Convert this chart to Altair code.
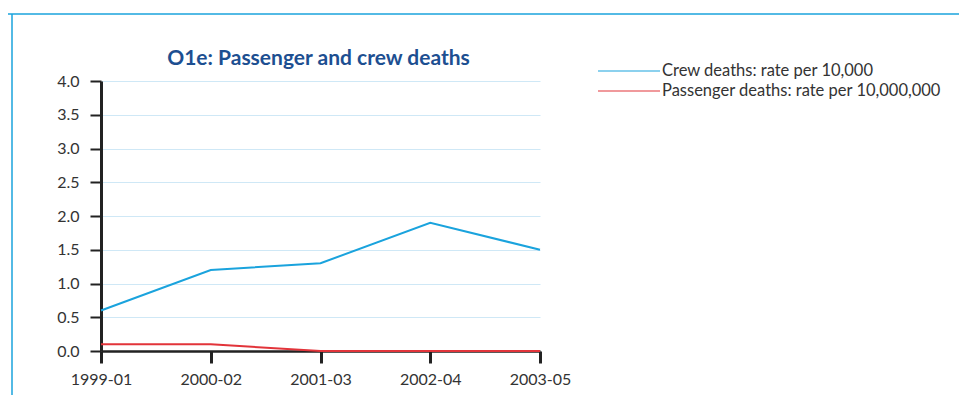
import altair as alt
import pandas as pd

periods = ["1999-01", "2000-02", "2001-03", "2002-04", "2003-05"]
crew = [0.6, 1.2, 1.3, 1.9, 1.5]
passenger = [0.1, 0.1, 0.0, 0.0, 0.0]
series_names = ["Crew deaths: rate per 10,000", "Passenger deaths: rate per 10,000,000"]
series_colors = ["#1aa3dd", "#e2343a"]
title_text = "O1e: Passenger and crew deaths"

rows = []
for p, c in zip(periods, crew):
    rows.append({"period": p, "value": c, "series": series_names[0]})
for p, v in zip(periods, passenger):
    rows.append({"period": p, "value": v, "series": series_names[1]})
df = pd.DataFrame(rows)

FONT = "Lato"

color_scale = alt.Scale(domain=series_names, range=series_colors)

lines = alt.Chart(df).mark_line(strokeWidth=2).encode(
    x=alt.X("period:O", sort=periods, scale=alt.Scale(type="point", padding=0),
            axis=alt.Axis(title=None, labelAngle=0, domainColor="#222222", domainWidth=2.5,
                          tickColor="#222222", tickWidth=3, tickSize=12, labelPadding=8,
                          labelFontSize=16, labelColor="#333333", labelFont=FONT, grid=False)),
    y=alt.Y("value:Q", scale=alt.Scale(domain=[0, 4]),
            axis=alt.Axis(title=None, values=[0, 0.5, 1, 1.5, 2, 2.5, 3, 3.5, 4], format=".1f",
                          domainColor="#222222", domainWidth=3, tickColor="#222222", tickWidth=2,
                          tickSize=11, labelPadding=11, labelFontSize=16, labelColor="#333333",
                          labelFont=FONT, grid=True, gridColor="#cfe8f6", gridWidth=1)),
    color=alt.Color("series:N", sort=series_names, scale=color_scale, legend=None),
)

leg_y = {series_names[0]: -10, series_names[1]: 10}
leg_rules = []
leg_texts = []
for name in series_names:
    one = pd.DataFrame({"series": [name]})
    leg_rules.append(alt.Chart(one).mark_rule(strokeWidth=1.2).encode(
        x=alt.value(497), x2=alt.value(559), y=alt.value(leg_y[name]),
        color=alt.Color("series:N", scale=color_scale, legend=None)))
    leg_texts.append(alt.Chart(one).mark_text(align="left", baseline="middle", font=FONT,
                                               fontSize=16.5, color="#333333").encode(
        x=alt.value(561), y=alt.value(leg_y[name]), text="series:N"))

title = alt.Chart(pd.DataFrame({"t": [title_text]})).mark_text(
    align="center", baseline="middle", font=FONT, fontSize=21, fontWeight="bold",
    color="#1d4f91").encode(x=alt.value(217.5), y=alt.value(-22), text="t:N")

frame_top = alt.Chart(pd.DataFrame({"a": [0]})).mark_rule(color="#1aa3dd", strokeWidth=1.5).encode(
    x=alt.value(-95), x2=alt.value(870), y=alt.value(-67))
frame_left = alt.Chart(pd.DataFrame({"a": [0]})).mark_rule(color="#1aa3dd", strokeWidth=1.5).encode(
    x=alt.value(-89), y=alt.value(-67), y2=alt.value(330))

chart = alt.layer(frame_top, frame_left, lines, title, *leg_rules, *leg_texts).properties(
    width=439, height=270,
    autosize=alt.AutoSizeParams(type="none"),
    padding={"left": 93, "top": 73, "right": 419, "bottom": 44},
).configure_view(stroke=None)

chart.save("out.html", embed_options={"renderer": "svg", "actions": False})
